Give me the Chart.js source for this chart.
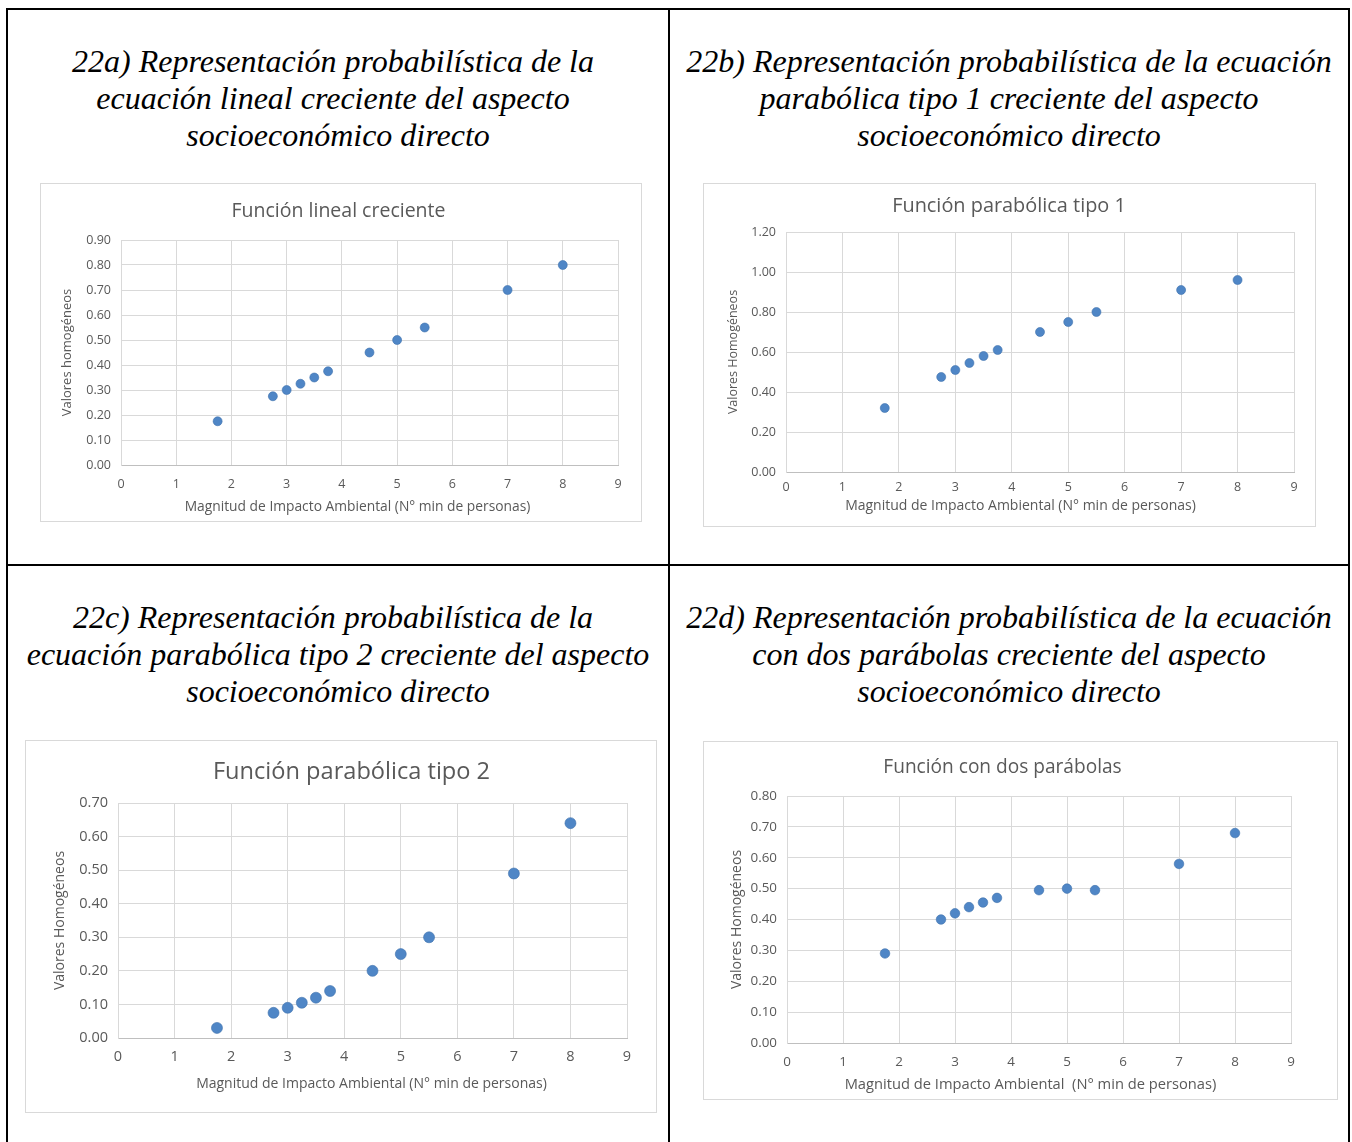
<!DOCTYPE html>
<html lang="es">
<head>
<meta charset="utf-8">
<title>Representación probabilística – aspecto socioeconómico directo</title>
<script src="https://cdn.jsdelivr.net/npm/chart.js@4.4.1/dist/chart.umd.min.js"></script>
<style>
  html, body { margin: 0; padding: 0; background: #ffffff; }
  body { width: 1352px; height: 1142px; position: relative; overflow: hidden; }
  .rule { position: absolute; background: #000; }
  .cap {
    position: absolute; text-align: center; color: #000;
    font-family: "Liberation Serif", "Times New Roman", serif;
    font-style: italic; font-size: 32px; line-height: 37px; white-space: nowrap;
  }
  .cap .shift { position: relative; left: -5px; }
  .box { position: absolute; box-sizing: border-box; border: 1px solid #d9d9d9; background: #fff; }
  .box canvas { display: block; }
</style>
</head>
<body>
<!-- table rules -->
<div class="rule" style="left:6px;top:8px;width:1344px;height:2px"></div>
<div class="rule" style="left:6px;top:564px;width:1344px;height:2px"></div>
<div class="rule" style="left:6px;top:8px;width:2px;height:1134px"></div>
<div class="rule" style="left:668px;top:8px;width:2px;height:1134px"></div>
<div class="rule" style="left:1348px;top:8px;width:2px;height:1134px"></div>

<div class="cap" style="left:8px;width:660px;top:43px"><span class="shift">22a) Representación probabilística de la</span><br><span class="shift">ecuación lineal creciente del aspecto</span><br>socioeconómico directo</div>
<div class="cap" style="left:670px;width:678px;top:43px">22b) Representación probabilística de la ecuación<br>parabólica tipo 1 creciente del aspecto<br>socioeconómico directo</div>
<div class="cap" style="left:8px;width:660px;top:599px"><span class="shift">22c) Representación probabilística de la</span><br>ecuación parabólica tipo 2 creciente del aspecto<br>socioeconómico directo</div>
<div class="cap" style="left:670px;width:678px;top:599px">22d) Representación probabilística de la ecuación<br>con dos parábolas creciente del aspecto<br>socioeconómico directo</div>

<div class="box" style="left:40px;top:183px;width:602px;height:339px"><canvas id="cA" width="600" height="337"></canvas></div>
<div class="box" style="left:703px;top:183px;width:613px;height:344px"><canvas id="cB" width="611" height="342"></canvas></div>
<div class="box" style="left:25px;top:740px;width:632px;height:373px"><canvas id="cC" width="630" height="371"></canvas></div>
<div class="box" style="left:703px;top:741px;width:635px;height:359px"><canvas id="cD" width="633" height="357"></canvas></div>

<script>
// Magnitude values (minimum number of people affected), shared by all four charts
const magnitud = [1.75, 2.75, 3, 3.25, 3.5, 3.75, 4.5, 5, 5.5, 7, 8];

// Homogeneous values for each function
const linealCreciente = [0.175, 0.275, 0.30, 0.325, 0.35, 0.375, 0.45, 0.50, 0.55, 0.70, 0.80];
const parabolicaTipo1 = [0.32, 0.475, 0.51, 0.545, 0.58, 0.61, 0.70, 0.75, 0.80, 0.91, 0.96];
const parabolicaTipo2 = [0.03, 0.075, 0.09, 0.105, 0.12, 0.14, 0.20, 0.25, 0.30, 0.49, 0.64];
const dosParabolas    = [0.29, 0.40, 0.42, 0.44, 0.455, 0.47, 0.495, 0.50, 0.495, 0.58, 0.68];

// Axis titles and chart titles
const xTitle = 'Magnitud de Impacto Ambiental (N° min de personas)';
const xTitleD = 'Magnitud de Impacto Ambiental  (N° min de personas)';
const chartTitles = ['Función lineal creciente', 'Función parabólica tipo 1', 'Función parabólica tipo 2', 'Función con dos parábolas'];
const yTitles = ['Valores homogéneos', 'Valores Homogéneos', 'Valores Homogéneos', 'Valores Homogéneos'];

const FONT = '"Open Sans", "Noto Sans", sans-serif';
const TEXT = '#595959';
const GRID = '#d9d9d9';
const DOT = '#4f86c6';

// Draws the chart title and both axis titles, placed from the chart area
const chartTexts = {
  id: 'chartTexts',
  afterDraw(chart, args, o) {
    const { ctx, chartArea: a } = chart;
    ctx.save();
    ctx.fillStyle = TEXT;
    ctx.textAlign = 'center';
    ctx.textBaseline = 'middle';
    ctx.font = o.titleSize + 'px ' + FONT;
    ctx.fillText(o.title, o.titleX, o.titleY);
    ctx.font = o.xSize + 'px ' + FONT;
    ctx.fillText(o.xText, (a.left + a.right) / 2 + o.xShift, chart.height - o.xFromBottom);
    ctx.translate(o.yFromLeft, (a.top + a.bottom) / 2);
    ctx.rotate(-Math.PI / 2);
    ctx.font = o.ySize + 'px ' + FONT;
    ctx.fillText(o.yText, 0, 0);
    ctx.restore();
  }
};

// L: layout of one chart box (all distances in px, relative to its canvas)
function scatter(id, ys, title, yTitle, xLabel, yMax, yStep, L) {
  const pts = magnitud.map((x, i) => ({ x: x, y: ys[i] }));
  return new Chart(document.getElementById(id), {
    type: 'scatter',
    data: { datasets: [{ data: pts, backgroundColor: DOT, borderColor: '#3f72ac', borderWidth: 0.6, pointRadius: L.r, pointHoverRadius: L.r }] },
    plugins: [chartTexts],
    options: {
      responsive: false, animation: false, devicePixelRatio: 1,
      layout: { padding: { left: 0, top: L.titleBlock, right: L.right, bottom: 0 } },
      plugins: {
        legend: { display: false }, tooltip: { enabled: false }, title: { display: false },
        chartTexts: {
          title: title, titleSize: L.titleSize, titleX: L.titleX, titleY: L.titleY,
          xText: xLabel, xSize: L.xAxis, xShift: L.xShift, xFromBottom: L.xTitleC,
          yText: yTitle, ySize: L.yAxis, yFromLeft: L.yTitleC
        }
      },
      scales: {
        x: {
          type: 'linear', min: 0, max: 9,
          afterFit: s => { s.height = L.xH; },
          ticks: { stepSize: 1, color: TEXT, padding: L.xTickC - 0.6 * L.tick, font: { family: FONT, size: L.tick } },
          grid: { color: GRID, drawTicks: false, lineWidth: 1 },
          border: { color: '#bfbfbf' }
        },
        y: {
          min: 0, max: yMax,
          afterFit: s => { s.width = L.yW; },
          ticks: { stepSize: yStep, color: TEXT, padding: 10, font: { family: FONT, size: L.tick },
            callback: v => Number(v).toFixed(2) },
          grid: { color: GRID, drawTicks: false, lineWidth: 1 },
          border: { color: GRID }
        }
      }
    }
  });
}

scatter('cA', linealCreciente, chartTitles[0], yTitles[0], xTitle, 0.9, 0.1,
  { yW: 80, right: 23, xH: 56, titleBlock: 56, titleSize: 19.5, titleX: 297.5, titleY: 27,
    tick: 12.5, xAxis: 13.8, yAxis: 13, xTickC: 19, xTitleC: 14.2, xShift: -12, yTitleC: 26, r: 4.5 });
scatter('cB', parabolicaTipo1, chartTitles[1], yTitles[1], xTitle, 1.2, 0.2,
  { yW: 82, right: 21, xH: 54, titleBlock: 48, titleSize: 19.9, titleX: 305, titleY: 22,
    tick: 12.5, xAxis: 14, yAxis: 12.5, xTickC: 15, xTitleC: 20.2, xShift: -19.5, yTitleC: 29, r: 4.5 });
scatter('cC', parabolicaTipo2, chartTitles[2], yTitles[2], xTitle, 0.7, 0.1,
  { yW: 92, right: 29, xH: 74, titleBlock: 62, titleSize: 23.6, titleX: 325.5, titleY: 31,
    tick: 14.5, xAxis: 14, yAxis: 14, xTickC: 19, xTitleC: 28.2, xShift: -1, yTitleC: 34, r: 5.5 });
scatter('cD', dosParabolas, chartTitles[3], yTitles[3], xTitleD, 0.8, 0.1,
  { yW: 83, right: 46, xH: 56, titleBlock: 54, titleSize: 19.1, titleX: 298.5, titleY: 26,
    tick: 13.4, xAxis: 14.7, yAxis: 14, xTickC: 19, xTitleC: 14.2, xShift: -8.5, yTitleC: 33, r: 4.8 });
</script>
</body>
</html>
